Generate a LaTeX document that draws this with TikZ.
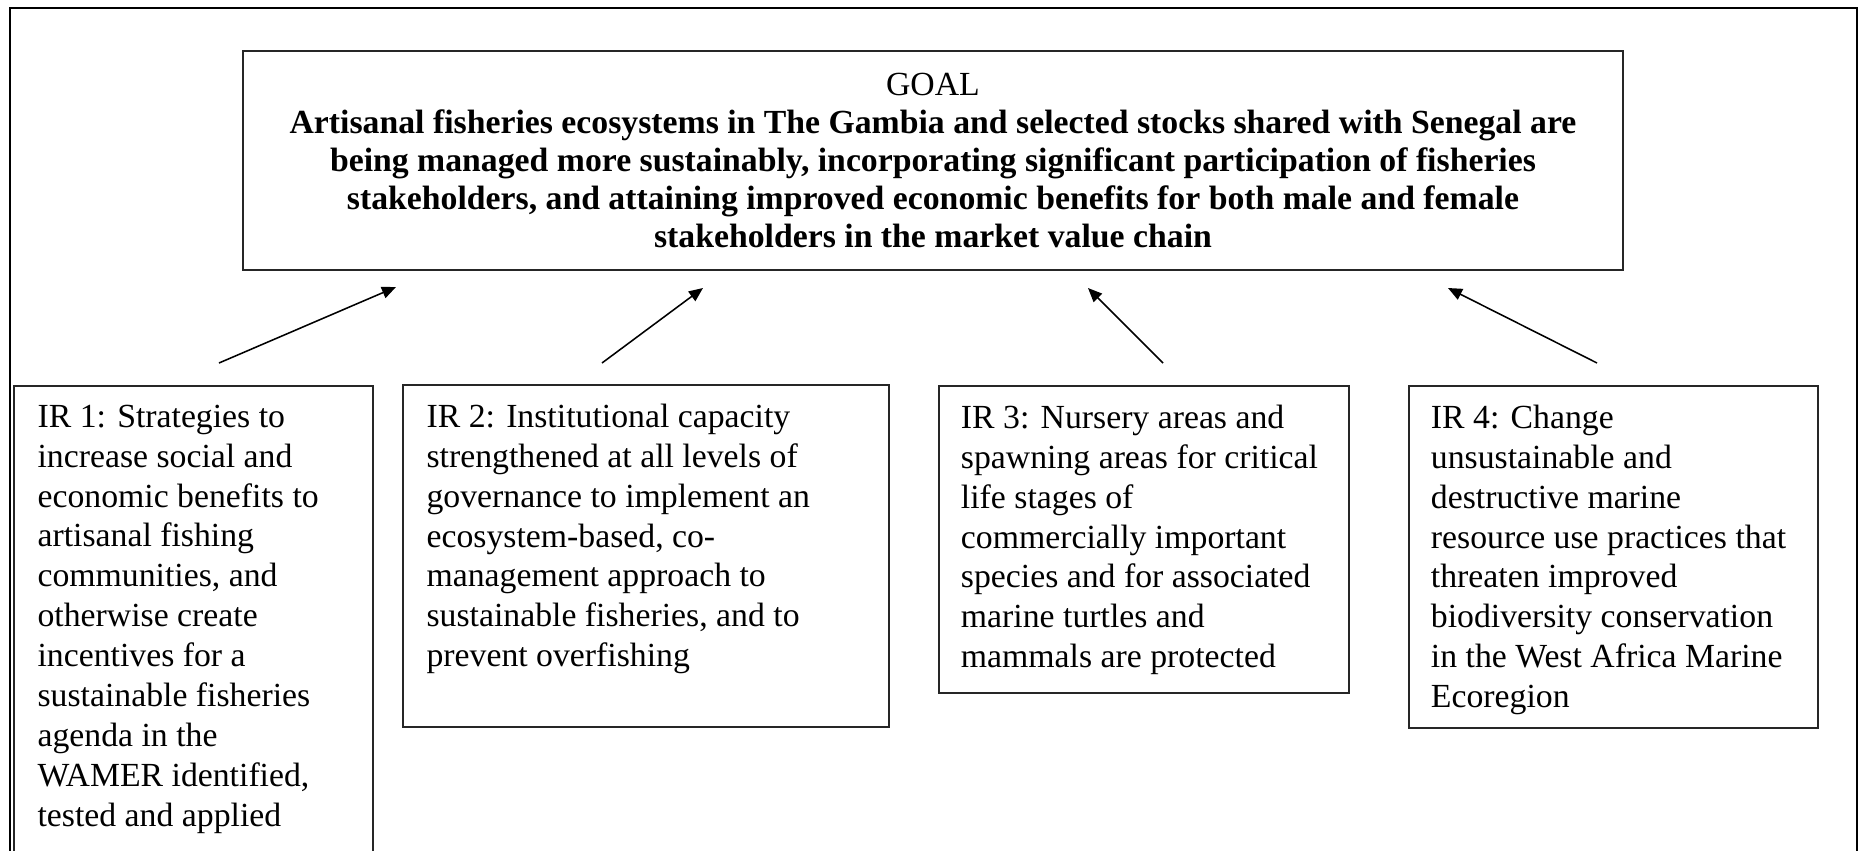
\documentclass[tikz,border=0pt]{standalone}
\usepackage{fontspec}
\setmainfont{Liberation Serif}
\usetikzlibrary{positioning,arrows.meta}

\begin{document}
\begin{tikzpicture}[
    x=0.0125cm, y=-0.0125cm,
    >={Triangle[length=5pt, width=4.2pt]},
    frame/.style={draw=black, line width=1pt},
    box/.style={
        rectangle, draw=black!85, line width=0.6pt,
        inner sep=0pt, anchor=north west
    },
    goalbox/.style={box, anchor=center, minimum width=17.25cm, minimum height=2.7375cm,
        align=center, font=\fontsize{12}{13.5}\selectfont},
    irtext/.style={inner sep=0pt, align=left, font=\fontsize{12}{14.2}\selectfont},
    arrow/.style={->, line width=0.55pt, black}
]
\useasboundingbox (0,0) rectangle (1861,850);
\clip (0,0) rectangle (1861,850);

% outer frame (open at the bottom)
\draw[frame] (10,870) -- (10,8) -- (1857,8) -- (1857,870);

% goal
\node[goalbox] (goal) at (933,160.5) {GOAL\\
    \textbf{Artisanal fisheries ecosystems in The Gambia and selected stocks shared with Senegal are}\\
    \textbf{being managed more sustainably, incorporating significant participation of fisheries}\\
    \textbf{stakeholders, and attaining improved economic benefits for both male and female}\\
    \textbf{stakeholders in the market value chain}};

% intermediate results
\node[box, minimum width=4.4875cm, minimum height=7.5cm] (ir1) at (13,385) {};
\node[box, minimum width=6.075cm, minimum height=4.275cm] (ir2) at (402,384) {};
\node[box, minimum width=5.125cm, minimum height=3.8375cm] (ir3) at (938,385) {};
\node[box, minimum width=5.1125cm, minimum height=4.275cm] (ir4) at (1408,385) {};

\node[irtext, below right=0.24cm and 0.3cm of ir1.north west] (ir1text) {IR 1: Strategies to\\
    increase social and\\
    economic benefits to\\
    artisanal fishing\\
    communities, and\\
    otherwise create\\
    incentives for a\\
    sustainable fisheries\\
    agenda in the\\
    WAMER identified,\\
    tested and applied};
\node[irtext, below right=0.24cm and 0.3cm of ir2.north west] (ir2text) {IR 2: Institutional capacity\\
    strengthened at all levels of\\
    governance to implement an\\
    ecosystem-based, co-\\
    management approach to\\
    sustainable fisheries, and to\\
    prevent overfishing};
\node[irtext, below right=0.24cm and 0.28cm of ir3.north west] (ir3text) {IR 3: Nursery areas and\\
    spawning areas for critical\\
    life stages of\\
    commercially important\\
    species and for associated\\
    marine turtles and\\
    mammals are protected};
\node[irtext, below right=0.24cm and 0.28cm of ir4.north west] (ir4text) {IR 4: Change\\
    unsustainable and\\
    destructive marine\\
    resource use practices that\\
    threaten improved\\
    biodiversity conservation\\
    in the West Africa Marine\\
    Ecoregion};

% arrow ends
\coordinate (ir1tail) at (219,363);
\coordinate (ir2tail) at (602,363);
\coordinate (ir3tail) at (1163,363);
\coordinate (ir4tail) at (1597,363);
\coordinate (goalin1) at (396,287);
\coordinate (goalin2) at (703,288);
\coordinate (goalin3) at (1088,288);
\coordinate (goalin4) at (1448,288);

% arrows
\draw[arrow] (ir1tail) -- (goalin1);
\draw[arrow] (ir2tail) -- (goalin2);
\draw[arrow] (ir3tail) -- (goalin3);
\draw[arrow] (ir4tail) -- (goalin4);

\end{tikzpicture}
\end{document}
